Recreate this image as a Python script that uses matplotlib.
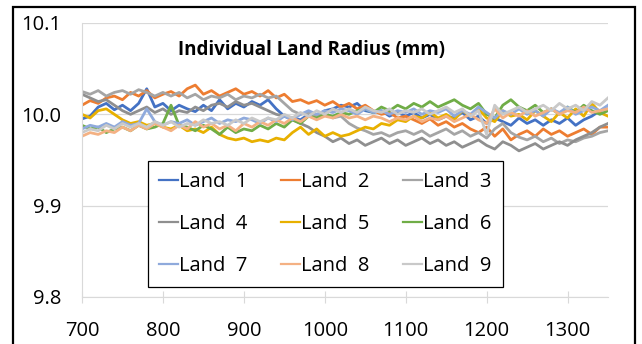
import numpy as np
import matplotlib
matplotlib.use("Agg")
from matplotlib import pyplot as plt
from matplotlib.patches import Rectangle

plt.rcParams['font.family'] = ['Open Sans', 'DejaVu Sans']

# x positions (every 10 units)
xValues = list(range(700, 1351, 10))

land1 = [9.995, 9.998, 10.008, 10.012, 10.005, 10.010, 10.004, 10.012, 10.028, 10.008, 10.012,
         10.004, 10.010, 10.006, 10.003, 10.010, 10.004, 10.016, 10.006, 10.012, 10.008, 10.014,
         10.010, 10.016, 10.006, 9.998, 9.996, 9.994, 10.000, 9.998, 10.004, 10.006, 10.010,
         10.008, 10.012, 10.004, 10.002, 10.004, 9.998, 10.002, 9.998, 10.002, 9.996, 10.000,
         9.994, 9.998, 9.996, 10.002, 9.994, 9.998, 9.990, 9.996, 9.992, 9.988, 9.996,
         9.990, 9.994, 9.988, 9.994, 9.990, 9.996, 9.988, 9.994, 9.998, 10.004, 10.006]
land2 = [10.010, 10.015, 10.012, 10.018, 10.020, 10.016, 10.024, 10.020, 10.026, 10.018, 10.022,
         10.025, 10.020, 10.028, 10.032, 10.022, 10.026, 10.020, 10.024, 10.028, 10.022, 10.025,
         10.020, 10.026, 10.018, 10.022, 10.014, 10.016, 10.012, 10.015, 10.010, 10.014, 10.008,
         10.012, 10.006, 10.010, 10.004, 10.000, 10.002, 9.996, 9.998, 9.994, 9.990, 9.995,
         9.988, 9.992, 9.986, 9.990, 9.984, 9.980, 9.986, 9.976, 9.984, 9.972, 9.978,
         9.982, 9.976, 9.984, 9.978, 9.982, 9.976, 9.980, 9.984, 9.978, 9.986, 9.986]
land3 = [10.025, 10.022, 10.026, 10.020, 10.024, 10.026, 10.022, 10.027, 10.024, 10.020, 10.024,
         10.020, 10.024, 10.018, 10.022, 10.016, 10.020, 10.018, 10.022, 10.016, 10.020, 10.018,
         10.022, 10.018, 10.020, 10.012, 10.004, 10.000, 10.002, 9.998, 10.002, 9.996, 9.998,
         9.990, 9.985, 9.982, 9.978, 9.980, 9.976, 9.980, 9.982, 9.978, 9.982, 9.976,
         9.980, 9.984, 9.978, 9.982, 9.976, 9.980, 9.974, 9.984, 9.990, 9.980, 9.975,
         9.972, 9.976, 9.970, 9.974, 9.968, 9.972, 9.970, 9.974, 9.976, 9.980, 9.982]
land4 = [10.022, 10.018, 10.014, 10.016, 10.010, 10.004, 10.000, 10.004, 10.008, 10.002, 10.006,
         10.000, 10.004, 10.002, 10.008, 10.004, 10.010, 10.012, 10.008, 10.014, 10.010, 10.012,
         10.008, 10.004, 10.000, 9.998, 9.994, 9.990, 9.986, 9.980, 9.976, 9.970, 9.974,
         9.968, 9.972, 9.966, 9.970, 9.974, 9.968, 9.972, 9.966, 9.970, 9.974, 9.968,
         9.972, 9.966, 9.970, 9.964, 9.968, 9.972, 9.966, 9.962, 9.970, 9.966, 9.960,
         9.964, 9.968, 9.962, 9.966, 9.970, 9.966, 9.972, 9.976, 9.980, 9.986, 9.990]
land5 = [10.000, 9.996, 10.004, 10.006, 10.000, 9.994, 9.990, 9.992, 9.988, 9.990, 9.986,
         9.984, 9.988, 9.982, 9.984, 9.980, 9.986, 9.978, 9.974, 9.972, 9.974, 9.970,
         9.972, 9.970, 9.974, 9.972, 9.980, 9.986, 9.978, 9.984, 9.976, 9.980, 9.976,
         9.978, 9.982, 9.986, 9.984, 9.990, 9.988, 9.994, 9.992, 9.998, 9.996, 10.002,
         9.996, 10.000, 9.994, 10.004, 9.998, 10.006, 9.996, 9.992, 10.004, 9.998, 10.000,
         9.994, 10.004, 9.998, 9.992, 10.002, 9.996, 10.006, 9.998, 10.012, 10.002, 9.998]
land6 = [9.988, 9.984, 9.986, 9.980, 9.984, 9.986, 9.982, 9.988, 9.984, 9.986, 9.990,
         10.010, 9.988, 9.986, 9.982, 9.988, 9.984, 9.978, 9.986, 9.980, 9.984, 9.982,
         9.988, 9.984, 9.990, 9.986, 9.994, 9.990, 9.998, 9.996, 10.000, 9.998, 10.002,
         10.000, 10.004, 10.006, 10.002, 10.008, 10.004, 10.010, 10.006, 10.012, 10.008, 10.014,
         10.008, 10.012, 10.016, 10.010, 10.006, 10.012, 10.000, 9.996, 10.010, 10.016, 10.008,
         10.004, 10.010, 10.002, 10.006, 10.000, 10.008, 10.002, 10.010, 10.004, 10.000, 10.004]
land7 = [9.984, 9.988, 9.986, 9.990, 9.986, 9.992, 9.988, 9.990, 10.006, 9.992, 9.988,
         9.992, 9.990, 9.994, 9.988, 9.992, 9.996, 9.990, 9.994, 9.992, 9.996, 9.994,
         9.990, 9.996, 9.992, 9.998, 9.994, 10.000, 10.004, 10.000, 10.004, 10.002, 10.006,
         10.004, 10.000, 10.006, 10.002, 10.004, 10.000, 10.004, 10.002, 10.006, 10.000, 10.004,
         10.002, 10.006, 9.998, 10.004, 10.000, 10.008, 10.002, 9.996, 10.004, 10.000, 10.006,
         10.000, 10.004, 9.998, 10.006, 10.002, 10.008, 10.000, 10.004, 10.008, 10.004, 10.010]
land8 = [9.976, 9.980, 9.978, 9.982, 9.980, 9.986, 9.982, 9.988, 9.984, 9.990, 9.986,
         9.982, 9.988, 9.984, 9.992, 9.986, 9.990, 9.984, 9.988, 9.982, 9.990, 9.986,
         9.992, 9.988, 9.994, 9.990, 9.996, 9.992, 9.998, 9.994, 9.998, 9.996, 10.000,
         9.996, 9.998, 9.994, 9.998, 9.996, 9.992, 9.996, 9.994, 9.998, 9.992, 9.996,
         9.994, 9.998, 9.992, 9.996, 10.000, 9.994, 9.990, 10.006, 9.996, 10.002, 9.998,
         10.004, 9.998, 10.002, 10.006, 10.000, 10.004, 10.002, 10.008, 10.002, 10.004, 10.006]
land9 = [9.980, 9.984, 9.982, 9.988, 9.984, 9.990, 9.986, 9.990, 9.986, 9.992, 9.988,
         9.992, 9.986, 9.990, 9.988, 9.994, 9.990, 9.992, 9.988, 9.994, 9.990, 9.996,
         9.992, 9.996, 9.994, 10.000, 9.996, 10.002, 9.998, 10.004, 10.000, 10.006, 10.002,
         10.006, 10.002, 10.008, 10.004, 10.002, 10.006, 10.000, 10.004, 10.002, 10.006, 10.000,
         10.004, 10.008, 10.002, 10.006, 9.998, 10.004, 9.978, 10.010, 10.000, 10.004, 10.008,
         10.002, 10.006, 10.010, 10.004, 10.012, 10.006, 10.010, 10.004, 10.014, 10.010, 10.018]

seriesNames = ['Land  1', 'Land  2', 'Land  3', 'Land  4', 'Land  5',
               'Land  6', 'Land  7', 'Land  8', 'Land  9']
seriesValues = [land1, land2, land3, land4, land5, land6, land7, land8, land9]
seriesColors = ['#4472C4', '#ED7D31', '#A5A5A5', '#8F8F8F', '#E8B000',
                '#70AD47', '#8FAADC', '#F4B183', '#C9C9C9']

yTicks = [9.8, 9.9, 10.0, 10.1]
xTicks = [700, 800, 900, 1000, 1100, 1200, 1300]

fig = plt.figure(figsize=(6.42, 3.44), dpi=100)
ax = fig.add_axes([82 / 642, 1 - 297 / 344, (608 - 82) / 642, (297 - 23) / 344])

for name, vals, col in zip(seriesNames, seriesValues, seriesColors):
    ax.plot(xValues, vals, color=col, linewidth=2.0, label=name)

ax.set_xlim(700, 1350)
ax.set_ylim(9.8, 10.1)
ax.set_yticks(yTicks)
ax.set_yticklabels(['%.1f' % v for v in yTicks])
ax.set_xticks(xTicks)
ax.grid(axis='y', color='#D9D9D9', linewidth=0.9)
ax.set_axisbelow(True)

for side in ['top', 'right']:
    ax.spines[side].set_visible(False)
ax.spines['left'].set_color('#D9D9D9')
ax.spines['bottom'].set_color('#D9D9D9')
ax.tick_params(axis='y', length=0, labelsize=14.5, pad=15)
ax.tick_params(axis='x', direction='inout', length=9, color='#D9D9D9', labelsize=14.5, pad=13)

ax.text(0.437, 0.900, 'Individual Land Radius (mm)', transform=ax.transAxes,
        ha='center', va='center', fontsize=13.5, fontweight='bold')

# Excel fills the legend row by row, matplotlib column by column
handles, labels = ax.get_legend_handles_labels()
order = [0, 3, 6, 1, 4, 7, 2, 5, 8]
leg = ax.legend([handles[i] for i in order], [labels[i] for i in order],
                ncol=3, loc='lower left', bbox_to_anchor=(0.1255, 0.036, 0.6745, 0.453),
                mode='expand', fontsize=14.5, fancybox=False, framealpha=1,
                edgecolor='black', handlelength=0.95, handletextpad=0.05,
                borderaxespad=0, labelspacing=1.1, borderpad=0.55)
leg.get_frame().set_linewidth(0.9)
for line in leg.get_lines():
    line.set_linewidth(1.6)

# outer chart border
fig.patches.append(Rectangle((13 / 642, -0.05), 622 / 642, 1.05 - 7 / 344,
                             transform=fig.transFigure, fill=False,
                             edgecolor='black', linewidth=1.6))

fig.savefig('out.png', dpi=100)
